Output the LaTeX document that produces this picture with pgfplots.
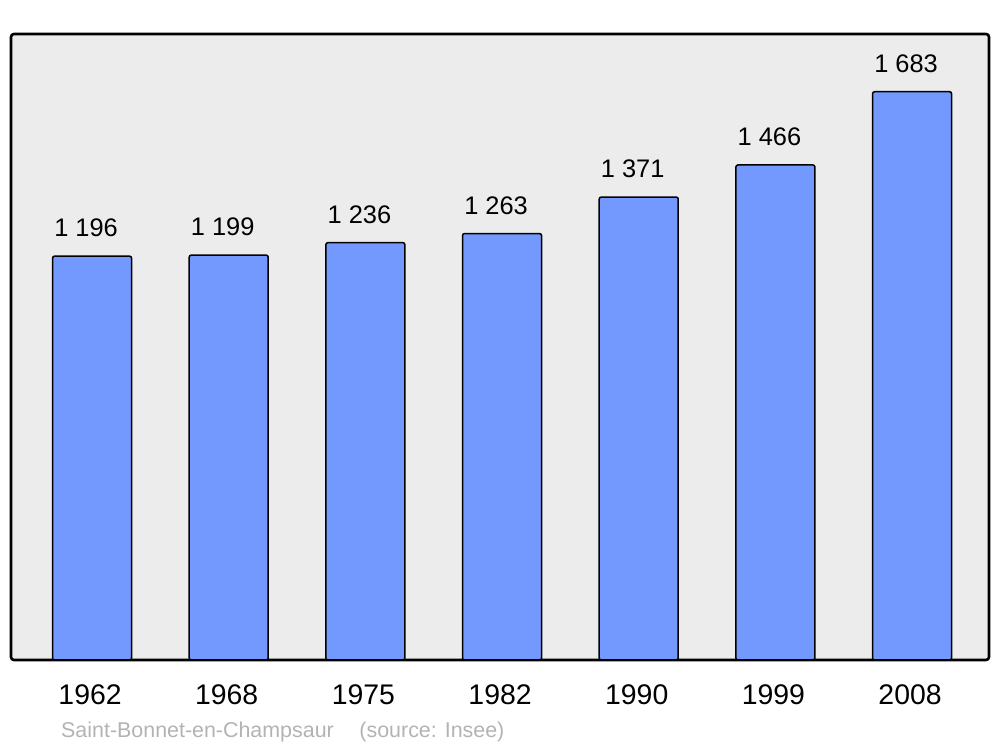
\documentclass[border=0pt]{standalone}
\usepackage{fontspec}
\setmainfont{Liberation Sans}
\usepackage{pgfplots}
\pgfplotsset{compat=1.18}
\definecolor{barc}{HTML}{7399FF}
\definecolor{bgc}{HTML}{ECECEC}
\definecolor{srcc}{HTML}{B3B3B3}
\begin{document}
\begin{tikzpicture}[x=1bp,y=1bp]
\path[use as bounding box] (0,0) rectangle (1000,747);
\begin{axis}[
  at={(11bp,87bp)}, anchor=south west,
  scale only axis, width=978bp, height=626bp,
  xmin=-0.593, xmax=6.563, ymin=0, ymax=1854,
  axis line style={draw=none},
  axis background/.style={fill=bgc, draw=black, line width=2.6bp, rounded corners=3bp},
  ytick=\empty,
  xtick={0,1,2,3,4,5,6},
  xticklabels={1962,1968,1975,1982,1990,1999,2008},
  x tick label style={font=\fontsize{28.5}{32}\selectfont, yshift=-21bp, xshift=-2bp},
  major tick length=0pt,
  ybar, bar width=79bp,
  point meta=explicit symbolic,
  nodes near coords,
  every node near coord/.style={anchor=center, yshift=28bp, xshift=-6bp, font=\fontsize{25.5}{30}\selectfont, text=black},
  clip=false,
]
\addplot[fill=barc, draw=black, line width=1.5bp, rounded corners=2bp] table[meta=lab] {
x y lab
0 1196 {1 196}
1 1199 {1 199}
2 1236 {1 236}
3 1263 {1 263}
4 1371 {1 371}
5 1466 {1 466}
6 1683 {1 683}
};
\end{axis}
\node[anchor=west, text=srcc, font=\fontsize{21.5}{25}\selectfont, inner sep=0pt] at (61,15.5) {Saint-Bonnet-en-Champsaur\hspace{1.2em}(source: Insee)};
\end{tikzpicture}
\end{document}
